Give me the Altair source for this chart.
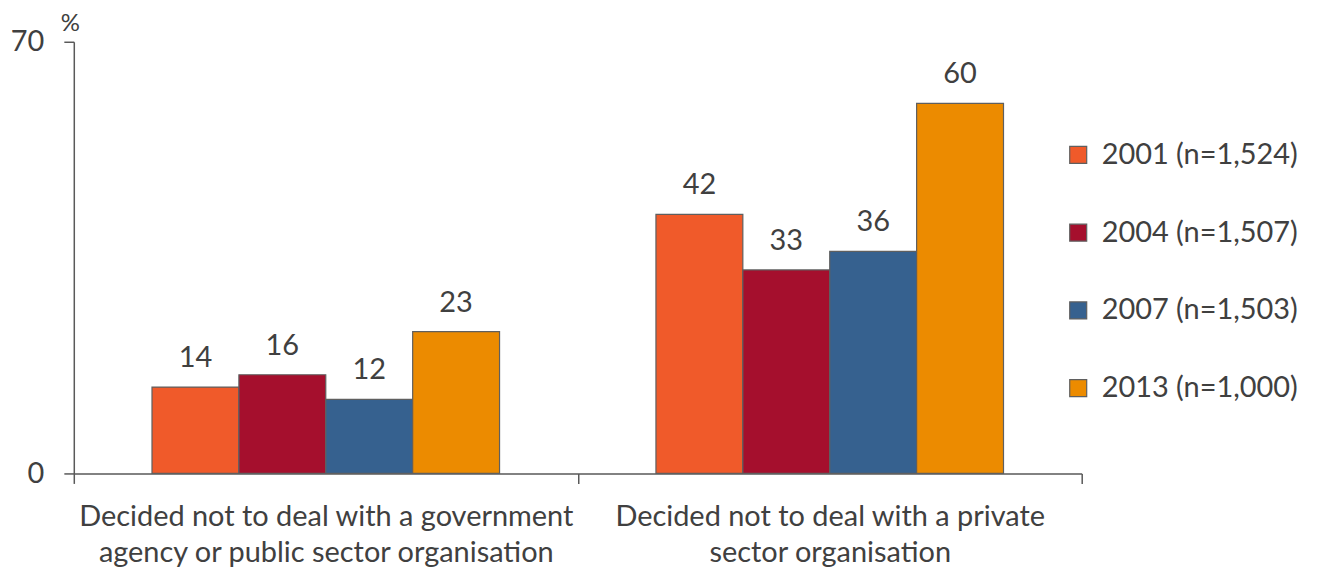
import altair as alt
import pandas as pd

categories = [
    "Decided not to deal with a government|agency or public sector organisation",
    "Decided not to deal with a private|sector organisation",
]
years = ["2001 (n=1,524)", "2004 (n=1,507)", "2007 (n=1,503)", "2013 (n=1,000)"]
values_gov = [14, 16, 12, 23]
values_priv = [42, 33, 36, 60]
colors = ["#F05A2A", "#A50F2D", "#36618F", "#EC8B00"]

rows = []
for cat, vals in zip(categories, [values_gov, values_priv]):
    for y, v in zip(years, vals):
        rows.append({"category": cat, "year": y, "value": v})
df = pd.DataFrame(rows)

FONT = "Lato"
TXT = "#404040"
AX = "#595959"
FS = 29

base = alt.Chart(df).encode(
    x=alt.X(
        "category:N",
        sort=categories,
        scale=alt.Scale(paddingInner=0, paddingOuter=0),
        axis=alt.Axis(
            title=None,
            labelAngle=0,
            tickBand="extent",
            labelExpr="split(datum.label, '|')",
            labelFontSize=FS,
            labelColor=TXT,
            labelLineHeight=36,
            labelPadding=19,
            labelLimit=0,
            tickSize=10,
            tickColor=AX,
            tickWidth=1.5,
            domainColor=AX,
            domainWidth=1.5,
        ),
    ),
    xOffset=alt.XOffset(
        "year:N", sort=years, scale=alt.Scale(paddingInner=0, paddingOuter=0.9)
    ),
    y=alt.Y(
        "value:Q",
        scale=alt.Scale(domain=[0, 70], nice=False),
        axis=alt.Axis(
            values=[0, 70],
            grid=False,
            title="%",
            titleAngle=0,
            titleX=-4,
            titleY=-18,
            titleAlign="center",
            titleBaseline="middle",
            titleFontSize=24,
            titleFontWeight="normal",
            titleColor=TXT,
            labelFontSize=FS,
            labelColor=TXT,
            labelPadding=20,
            tickSize=10,
            tickColor=AX,
            tickWidth=1.5,
            domainColor=AX,
            domainWidth=1.5,
        ),
    ),
)

bars = base.mark_bar(stroke="#5f5f5f", strokeWidth=1.2).encode(
    color=alt.Color(
        "year:N",
        sort=years,
        scale=alt.Scale(domain=years, range=colors),
        legend=alt.Legend(
            title=None,
            orient="none",
            legendX=993,
            legendY=99,
            symbolType="square",
            symbolSize=290,
            symbolStrokeColor="#5f5f5f",
            symbolStrokeWidth=1.2,
            labelFontSize=FS,
            labelColor=TXT,
            labelOffset=9,
            labelLimit=0,
            rowPadding=48,
        ),
    )
)

text = base.mark_text(
    baseline="alphabetic", dy=-20, fontSize=FS, color=TXT
).encode(text="value:Q")

chart = (
    (bars + text)
    .properties(
        width=1011,
        height=433,
        autosize=alt.AutoSizeParams(type="none"),
        padding={"left": 66, "top": 33, "right": 230, "bottom": 100},
    )
    .configure(font=FONT)
    .configure_view(stroke=None)
)

chart.save("out.html", embed_options={"renderer": "svg", "actions": False})
